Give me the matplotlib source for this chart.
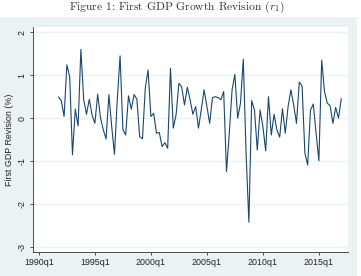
import matplotlib
matplotlib.use("Agg")
import matplotlib.pyplot as plt
from matplotlib.patches import Rectangle
import numpy as np

# first GDP growth revision, quarterly, 1991q4 .. 2017q1
start_q = 7  # quarters after 1990q1
revision = [
    0.49, 0.41, 0.04, 1.24, 0.97, -0.85, 0.21, -0.18, 1.60, 0.43,
    0.09, 0.44, 0.07, -0.12, 0.56, 0.01, -0.27, -0.48, 0.55, -0.19,
    -0.84, 0.43, 1.45, -0.26, -0.39, 0.52, 0.21, 0.55, 0.44, -0.43,
    -0.48, 0.70, 1.12, 0.04, 0.11, -0.35, -0.33, -0.66, -0.57, -0.70,
    1.16, -0.23, 0.08, 0.81, 0.73, 0.31, 0.72, 0.43, 0.09, 0.27,
    -0.23, 0.20, 0.66, 0.28, -0.12, 0.48, 0.50, 0.48, 0.43, 0.62,
    -1.24, -0.35, 0.66, 1.02, 0.00, 0.35, 1.37, -0.81, -2.42, 0.41,
    0.19, -0.74, 0.19, -0.19, -0.76, 0.50, -0.39, 0.09, -0.27, -0.44,
    0.22, -0.35, 0.27, 0.66, 0.31, -0.12, 0.84, 0.75, -0.81, -1.09,
    0.19, 0.33, -0.35, -0.99, 1.35, 0.62, 0.35, 0.29, -0.12, 0.25,
    0.00, 0.45,
]
quarters = np.arange(start_q, start_q + len(revision))

xtick_pos = [0, 20, 40, 60, 80, 100]
xtick_labels = ["1990q1", "1995q1", "2000q1", "2005q1", "2010q1", "2015q1"]
yticks = [-3, -2, -1, 0, 1, 2]

W, H = 361, 276
plt.rcParams["font.family"] = ["Liberation Sans", "DejaVu Sans"]
plt.rcParams["mathtext.fontset"] = "cm"
fig = plt.figure(figsize=(W / 100, H / 100), dpi=100)

# stata-like graph region
bg = "#eaf2f3"
fig.patches.append(Rectangle((0, 0), 357 / W, (H - 17) / H, transform=fig.transFigure,
                             facecolor=bg, edgecolor="none", zorder=-5))

ax = fig.add_axes([33 / W, 1 - 252 / H, (348 - 33) / W, (252 - 27) / H])
ax.set_zorder(2)
ax.set_facecolor("white")
ax.plot(quarters, revision, color="#1a476f", lw=0.8)

ax.set_xlim(-2.1, 110.4)
ax.set_ylim(-3.11, 2.12)
ax.set_xticks(xtick_pos)
ax.set_xticklabels(xtick_labels)
ax.set_yticks(yticks)
ax.set_yticklabels([str(v) for v in yticks], rotation=90, va="center")
ax.grid(axis="y", color=bg, lw=0.9)
ax.set_axisbelow(True)

for s in ["top", "right"]:
    ax.spines[s].set_visible(False)
for s in ["left", "bottom"]:
    ax.spines[s].set_color("#333333")
    ax.spines[s].set_linewidth(0.6)
ax.tick_params(labelsize=6.4, length=2.5, width=0.6, color="#333333", labelcolor="#222222", pad=2)
ax.set_ylabel("First GDP Revision (%)", fontsize=6.4, color="#222222", labelpad=3)

fig.text(0.49, 1 - 10 / H, "Figure 1: First GDP Growth Revision ($r_1$)", ha="center",
         va="baseline", fontsize=8.3, family="cmr10", color="#333333")

fig.savefig("out.png", dpi=100)
